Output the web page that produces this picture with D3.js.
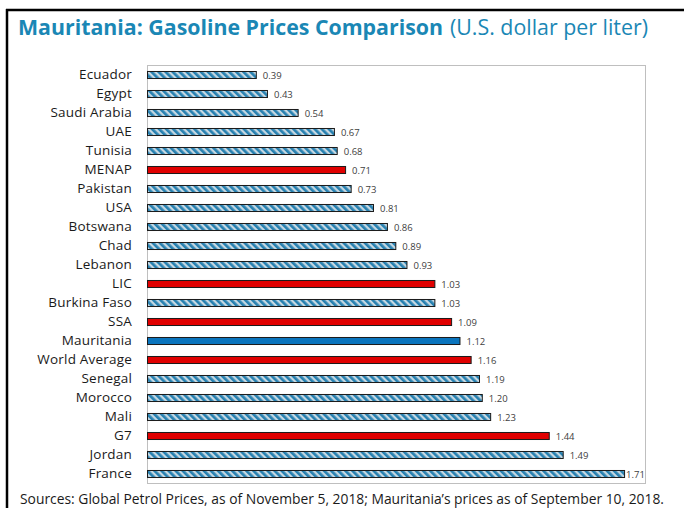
<!DOCTYPE html>
<html lang="en">
<head>
<meta charset="UTF-8">
<title>Mauritania: Gasoline Prices Comparison</title>
<script src="https://cdn.jsdelivr.net/npm/d3@7"></script>
<style>
    body { margin: 0; background: #fff; }
    svg { display: block; font-family: "Open Sans", "Noto Sans", sans-serif; }
</style>
</head>
<body>
<div id="chart"></div>
<script>
    const countries = ["Ecuador", "Egypt", "Saudi Arabia", "UAE", "Tunisia", "MENAP", "Pakistan", "USA",
        "Botswana", "Chad", "Lebanon", "LIC", "Burkina Faso", "SSA", "Mauritania", "World Average",
        "Senegal", "Morocco", "Mali", "G7", "Jordan", "France"];
    const prices = [0.39, 0.43, 0.54, 0.67, 0.68, 0.71, 0.73, 0.81, 0.86, 0.89, 0.93, 1.03, 1.03,
        1.09, 1.12, 1.16, 1.19, 1.20, 1.23, 1.44, 1.49, 1.71];
    // h = country (hatched), g = group average (red), m = Mauritania
    const kinds = ["h", "h", "h", "h", "h", "g", "h", "h", "h", "h", "h", "g", "h", "g", "m", "g",
        "h", "h", "h", "g", "h", "h"];

    const width = 684, height = 508;
    const plot = { left: 147, right: 645, top: 65, bottom: 483 };

    const data = countries.map((c, i) => ({ name: c, value: prices[i], kind: kinds[i] }));

    const svg = d3.select("#chart").append("svg")
        .attr("width", width)
        .attr("height", height);

    const defs = svg.append("defs");
    const pat = defs.append("pattern")
        .attr("id", "hatch")
        .attr("patternUnits", "userSpaceOnUse")
        .attr("width", 5)
        .attr("height", 5)
        .attr("patternTransform", "rotate(-45)");
    pat.append("rect").attr("width", 5).attr("height", 5).attr("fill", "#c6d8e2");
    pat.append("rect").attr("width", 2.7).attr("height", 5).attr("fill", "#2680b0");

    const fills = { h: "url(#hatch)", g: "#e00000", m: "#0a74bd" };

    // outer frame
    svg.append("line").attr("x1", 7).attr("x2", 7).attr("y1", 9).attr("y2", height)
        .attr("stroke", "#000").attr("stroke-width", 2.5);
    svg.append("line").attr("x1", 6).attr("x2", width).attr("y1", 10).attr("y2", 10)
        .attr("stroke", "#000").attr("stroke-width", 2.5);

    // title
    svg.append("text")
        .attr("x", 18).attr("y", 35)
        .attr("font-size", 21).attr("font-weight", "bold").attr("fill", "#1a87b5")
        .attr("textLength", 425).attr("lengthAdjust", "spacingAndGlyphs")
        .text("Mauritania: Gasoline Prices Comparison");
    svg.append("text")
        .attr("x", 450).attr("y", 35)
        .attr("font-size", 21).attr("fill", "#1a87b5")
        .attr("textLength", 198).attr("lengthAdjust", "spacingAndGlyphs")
        .text("(U.S. dollar per liter)");

    const x = d3.scaleLinear()
        .domain([0, 1.785])
        .range([plot.left, plot.right]);

    const y = d3.scaleBand()
        .domain(countries)
        .range([plot.top + 0.5, plot.bottom + 0.5])
        .paddingInner(0.63)
        .paddingOuter(0.315);

    // plot box
    svg.append("rect")
        .attr("x", plot.left + 0.5).attr("y", plot.top + 0.5)
        .attr("width", plot.right - plot.left).attr("height", plot.bottom - plot.top)
        .attr("fill", "none").attr("stroke", "#bfbfbf");

    // category axis
    const yAxis = svg.append("g")
        .attr("transform", `translate(${plot.left},0)`)
        .call(d3.axisLeft(y).tickSize(0).tickPadding(15));
    yAxis.select(".domain").remove();
    yAxis.selectAll("text")
        .attr("font-size", 13.5)
        .attr("font-family", "\"Open Sans\", sans-serif")
        .attr("letter-spacing", 0.2)
        .attr("fill", "#1a1a1a");

    // bars
    svg.selectAll("rect.bar")
        .data(data)
        .join("rect")
        .attr("class", "bar")
        .attr("x", x(0) + 0.5)
        .attr("y", d => y(d.name))
        .attr("width", d => x(d.value) - x(0))
        .attr("height", y.bandwidth())
        .attr("fill", d => fills[d.kind])
        .attr("stroke", "#1a1a1a")
        .attr("stroke-width", 1);

    // value labels
    const maxVal = d3.max(prices);
    svg.selectAll("text.val")
        .data(data)
        .join("text")
        .attr("class", "val")
        .attr("x", d => x(d.value) + (d.value === maxVal ? 2 : 7))
        .attr("y", d => y(d.name) + y.bandwidth() / 2)
        .attr("dy", "0.4em")
        .attr("font-size", 9.5)
        .attr("fill", "#404040")
        .text(d => d.value.toFixed(2));

    // source note
    svg.append("text")
        .attr("x", 20).attr("y", 504)
        .attr("font-size", 14).attr("fill", "#1a1a1a")
        .attr("textLength", 644).attr("lengthAdjust", "spacingAndGlyphs")
        .text("Sources: Global Petrol Prices, as of November 5, 2018; Mauritania\u2019s prices as of September 10, 2018.");
</script>
</body>
</html>
